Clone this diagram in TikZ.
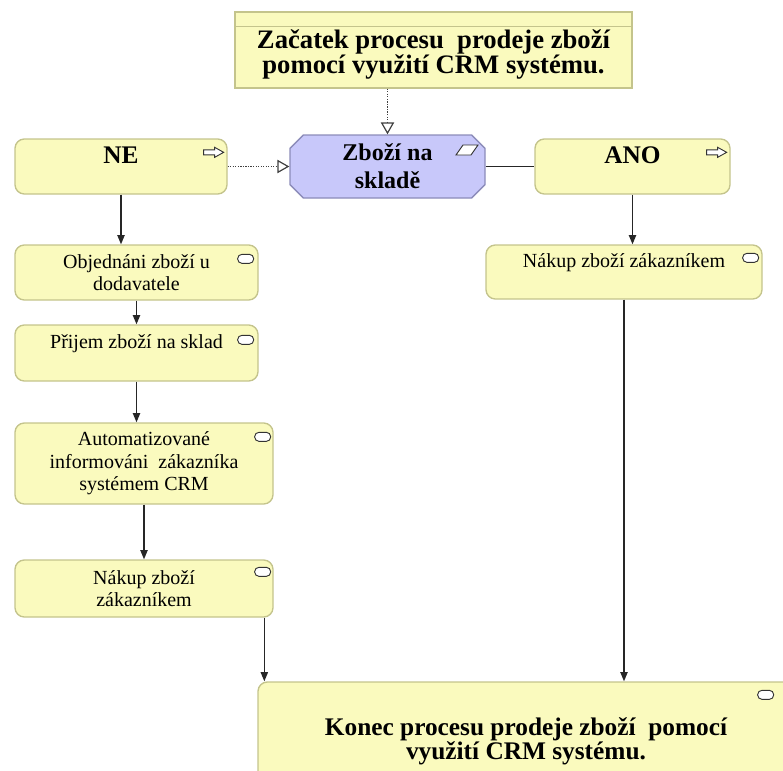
\documentclass[tikz,border=0pt]{standalone}
\usepackage{fontspec}
\setmainfont{Liberation Serif}
\usetikzlibrary{arrows.meta,shapes.misc}

\definecolor{boxfill}{RGB}{250,250,190}
\definecolor{boxline}{RGB}{196,196,140}
\definecolor{skladfill}{RGB}{200,200,250}
\definecolor{skladline}{RGB}{140,140,185}

\begin{document}
\begin{tikzpicture}[x=0.75pt,y=-0.75pt]
\useasboundingbox (0,0) rectangle (783,771);
\clip (0,0) rectangle (783,771);
\begin{scope}
\tikzstyle{krok}=[draw=boxline,fill=boxfill,rectangle,rounded corners=7pt, line width=1pt, align=center, font=\fontsize{15}{17}\selectfont]
\tikzstyle{horni}=[text height=11pt, text depth=18.5pt]
\tikzstyle{vetev}=[krok, font=\fontsize{19}{21}\selectfont\bfseries, text height=12.6pt, text depth=17pt]
\tikzstyle{udalost}=[draw=boxline,fill=boxfill,rectangle, line width=1pt, align=center, font=\fontsize{20}{19}\selectfont\bfseries]
\tikzstyle{sklad}=[draw=skladline,fill=skladfill,chamfered rectangle, chamfered rectangle xsep=7pt, line width=1pt, align=center, font=\fontsize{18}{21}\selectfont\bfseries, inner sep=0pt]
\tikzstyle{tok}=[draw=black!85, line width=1pt, -{Triangle[length=7pt,width=5.5pt]}]
\tikzstyle{tecky}=[draw=black!75, line width=0.9pt, densely dotted, -{Triangle[open,length=9pt,width=10pt]}]
\tikzstyle{ikona}=[draw=black!80, line width=0.7pt, fill=white, rounded corners=3.2pt]
\tikzstyle{sipka}=[draw=black!80, line width=0.7pt, fill=white]

\node[udalost, minimum width=297.75pt, minimum height=57pt] (start) at (433.5,50) {\rule{0pt}{21pt}Začatek procesu~ prodeje zboží\\pomocí využití CRM systému.};
\node[sklad, minimum width=146.25pt, minimum height=47.25pt] (zbozi) at (387.5,166.5) {Zboží na\\skladě};
\node[vetev, minimum width=159pt, minimum height=41.25pt] (ne) at (121,166.5) {NE};
\node[vetev, minimum width=146.25pt, minimum height=41.25pt] (ano) at (632.5,166.5) {ANO};

\node[krok, minimum width=182.25pt, minimum height=41.25pt] (obj) at (136.5,272.5) {Objednáni zboží u\\dodavatele};
\node[krok, horni, minimum width=182.25pt, minimum height=42pt] (prijem) at (136.5,353) {Přijem zboží na sklad};
\node[krok, minimum width=193.5pt, minimum height=60.75pt] (auto) at (144,463.5) {Automatizované\\informováni~ zákazníka\\systémem CRM};
\node[krok, minimum width=193.5pt, minimum height=42.75pt] (nakup1) at (144,588.5) {Nákup zboží\\zákazníkem};
\node[krok, horni, minimum width=207pt, minimum height=40.5pt] (nakup2) at (624,272) {Nákup zboží zákazníkem};
\node[krok, font=\fontsize{19}{18}\selectfont\bfseries, minimum width=402pt, minimum height=85.5pt] (konec) at (526,739) {\rule{0pt}{17pt}Konec procesu prodeje zboží~ pomocí\\využití CRM systému.};

% hlavicka udalosti
\draw[boxline, line width=1pt] ([shift={(0,15)}]start.north west) -- ([shift={(0,15)}]start.north east);

% ikony
\foreach \n/\dx/\dy in {obj/-21/10, prijem/-21/11, auto/-19/10, nakup1/-19/8, nakup2/-20/9, konec/-37/9}
  \draw[ikona] ([shift={(\dx,\dy)}]\n.north east) rectangle ++(16,9);
\foreach \n in {ne,ano}
  \draw[sipka] ([shift={(-24,11.5)}]\n.north east) -- ++(11,0) -- ++(0,-2.5) -- ++(9,5) -- ++(-9,5) -- ++(0,-2.5) -- ++(-11,0) -- cycle;
\draw[sipka] ([shift={(68.5,-11.5)}]zbozi.center) -- ++(15,0) -- ++(7,-10) -- ++(-15,0) -- cycle;

% spojnice
\coordinate (k1) at ([shift={(7,0)}]konec.north west);
\draw[tecky] (zbozi.north |- start.south) -- (zbozi.north);
\draw[tecky] (ne.east) -- (zbozi.west);
\draw[draw=black!85, line width=1pt] (zbozi.east) -- (ano.west);
\draw[tok] (ne.south) -- (ne.south |- obj.north);
\draw[tok] (obj.south) -- (prijem.north);
\draw[tok] (prijem.south) -- (prijem.south |- auto.north);
\draw[tok] (auto.south) -- (nakup1.north);
\draw[tok] (k1 |- nakup1.south) -- (k1);
\draw[tok] (ano.south) -- (ano.south |- nakup2.north);
\draw[tok] (nakup2.south) -- (nakup2.south |- konec.north);
\end{scope}
\end{tikzpicture}
\end{document}
